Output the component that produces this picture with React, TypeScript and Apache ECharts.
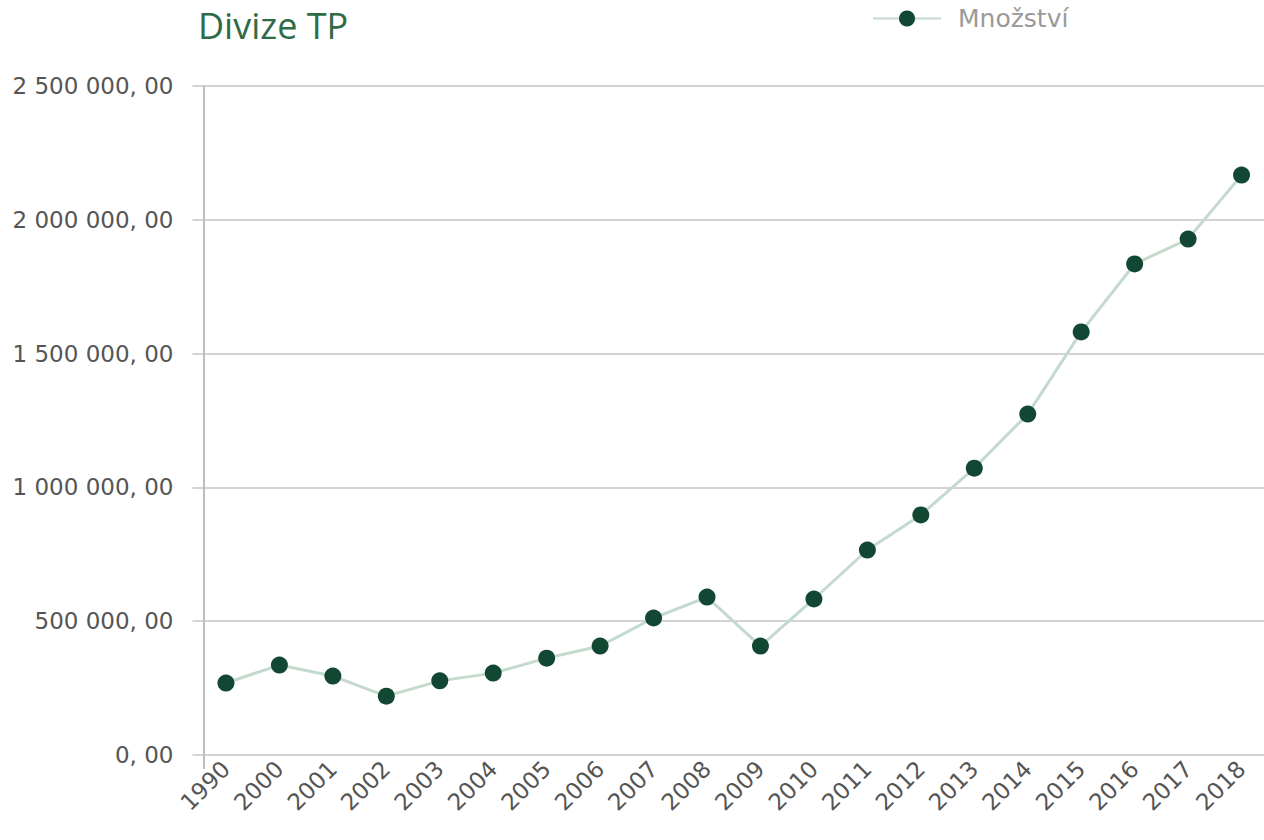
import React, { useEffect, useRef } from "react";
import * as echarts from "echarts";

const years = ["1990", "2000", "2001", "2002", "2003", "2004", "2005", "2006", "2007", "2008", "2009", "2010", "2011", "2012", "2013", "2014", "2015", "2016", "2017", "2018"];
const quantities = [269000, 336000, 295000, 220000, 277000, 306000, 362000, 407000, 512000, 590000, 407000, 583000, 766000, 897000, 1072000, 1274000, 1581000, 1835000, 1928000, 2167000];
const yTicks = [0, 500000, 1000000, 1500000, 2000000, 2500000];
const seriesName = "Množství";
const titleText = "Divize TP";

function fmt(v: number): string {
  const s = Math.round(v).toString().replace(/\B(?=(\d{3})+(?!\d))/g, " ");
  return s + ", 00";
}

export default function App() {
  const ref = useRef<HTMLDivElement>(null);
  useEffect(() => {
    if (!ref.current) return;
    const chart = echarts.init(ref.current, null, { renderer: "svg" });
    const font = "'DejaVu Sans', 'Open Sans', sans-serif";
    const pad = 0.42;
    chart.setOption({
      animation: false,
      backgroundColor: "#ffffff",
      textStyle: { fontFamily: font },
      title: {
        text: titleText,
        left: 198,
        top: 7,
        padding: 0,
        textStyle: { color: "#2e6b47", fontSize: 36, fontWeight: "normal", fontFamily: "'Open Sans', sans-serif" },
      },
      legend: {
        top: 1,
        left: 867,
        itemWidth: 68,
        itemHeight: 20,
        itemGap: 10,
        textStyle: { color: "#9a9a9a", fontSize: 25, fontFamily: font, padding: [0, 0, 0, 12] },
        data: [{ name: seriesName }],
      },
      grid: { left: 203.5, right: 0, top: 86, bottom: 85, containLabel: false },
      xAxis: {
        type: "value",
        min: -pad,
        max: years.length - 1 + pad,
        splitLine: { show: false },
        axisLine: { show: false },
        axisTick: {
          show: true,
          customValues: [-pad],
          length: 14,
          lineStyle: { color: "#bdbdbd", width: 2 },
        },
        axisLabel: {
          customValues: years.map((_, i) => i),
          formatter: (v: number) => years[Math.round(v)] ?? "",
          rotate: 45,
          margin: 10,
          color: "#555555",
          fontSize: 23,
          fontFamily: font,
        },
      },
      yAxis: {
        type: "value",
        min: 0,
        max: 2500000,
        interval: 500000,
        axisLine: { show: true, onZero: false, lineStyle: { color: "#bdbdbd", width: 2 } },
        axisTick: { show: true, length: 11, lineStyle: { color: "#c4c4c4", width: 1.5 } },
        splitLine: { show: true, lineStyle: { color: "#c4c4c4", width: 1.5 } },
        axisLabel: {
          formatter: (v: number) => (yTicks.includes(v) ? fmt(v) : ""),
          margin: 30,
          color: "#555555",
          fontSize: 23,
          fontFamily: font,
        },
      },
      series: [
        {
          name: seriesName,
          type: "line",
          data: quantities.map((q, i) => [i, q]),
          symbol: "circle",
          symbolSize: 17,
          itemStyle: { color: "#124734", borderWidth: 0 },
          lineStyle: { color: "#c3dacd", width: 3 },
          emphasis: { disabled: true },
        },
      ],
    });
    return () => chart.dispose();
  }, []);
  return <div ref={ref} style={{ position: "fixed", left: 0, top: 0, width: 1264, height: 840 }} />;
}
